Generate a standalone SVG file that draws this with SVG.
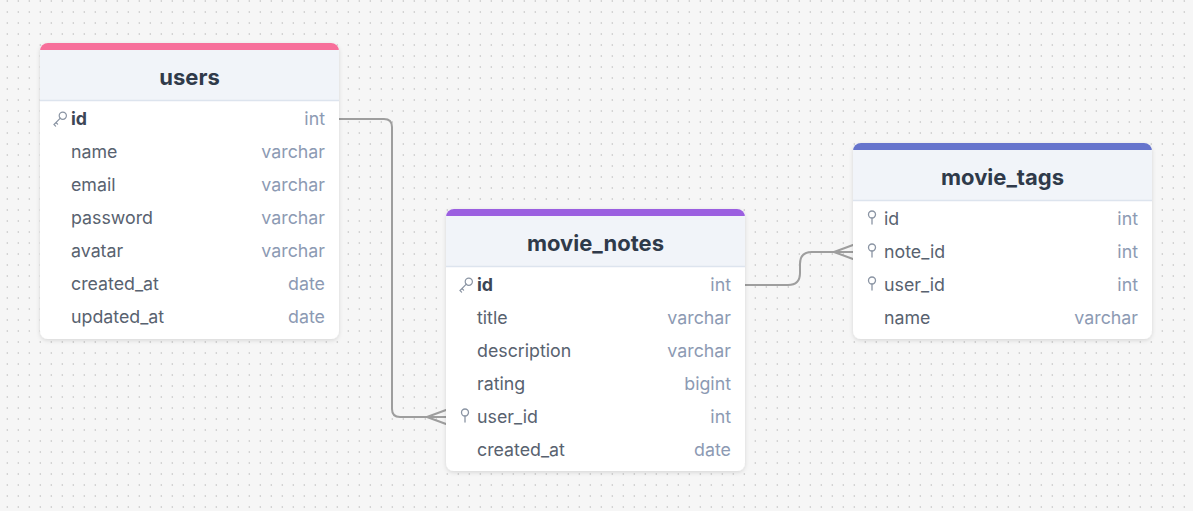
<svg xmlns="http://www.w3.org/2000/svg" width="1193" height="511" viewBox="0 0 1193 511">
<defs>
<pattern id="dots" x="0" y="0" width="11" height="11" patternUnits="userSpaceOnUse">
<circle cx="7.3" cy="1" r="0.8" fill="#bdbdbd"/>
</pattern>
<filter id="sh" x="-10%" y="-10%" width="120%" height="130%">
<feDropShadow dx="0" dy="1.5" stdDeviation="2" flood-color="#000" flood-opacity="0.13"/>
</filter>
<clipPath id="c1"><rect x="40" y="43" width="299" height="296" rx="8"/></clipPath>
<clipPath id="c2"><rect x="446" y="209" width="299" height="262" rx="8"/></clipPath>
<clipPath id="c3"><rect x="853" y="143" width="299" height="196" rx="8"/></clipPath>
<g id="key"><circle cx="4.8" cy="-3.8" r="3.6" fill="none" stroke="#8a94a3" stroke-width="1.2"/><path d="M2.3 -1.3 L-4 5 L-2.4 6.6 M-2 3 L-0.4 4.6" fill="none" stroke="#8a94a3" stroke-width="1.2" stroke-linecap="round"/></g>
<g id="pin"><circle cx="0" cy="-3" r="3.5" fill="none" stroke="#8a94a3" stroke-width="1.3"/><path d="M0 0.5 V6.5" stroke="#8a94a3" stroke-width="1.3" stroke-linecap="round"/></g>
</defs>
<style>
.title{font-family:Inter,"Liberation Sans",sans-serif;font-size:22px;font-weight:700;fill:#2f3a4a;text-anchor:middle}
.f{font-family:Inter,"Liberation Sans",sans-serif;font-size:17.8px;fill:#58626f}
.fb{font-family:Inter,"Liberation Sans",sans-serif;font-size:17.8px;font-weight:700;fill:#3c4656}
.t{font-family:Inter,"Liberation Sans",sans-serif;font-size:17.8px;fill:#8c9ab3;text-anchor:end}
.card{fill:#ffffff}
.hdr{fill:#f1f4f9}
.sep{stroke:#dde4ee;stroke-width:1.5}
.conn{fill:none;stroke:#9e9e9e;stroke-width:2;stroke-linecap:round;stroke-linejoin:round}
</style>
<rect width="1193" height="511" fill="#f6f6f6"/>
<rect width="1193" height="511" fill="url(#dots)"/>

<g id="connectors">
<path class="conn" d="M339 119 H384 Q392 119 392 127 V409 Q392 417 400 417 H446"/>
<path class="conn" d="M427 417 L446 410 M427 417 L446 424"/>
<path class="conn" d="M745 285 H788 Q800 285 800 273 V264 Q800 252 812 252 H853"/>
<path class="conn" d="M834 252 L853 245 M834 252 L853 259"/>
</g>

<g id="users">
<rect x="40" y="43" width="299" height="296" rx="8" class="card" filter="url(#sh)"/>
<g clip-path="url(#c1)">
<rect x="40" y="43" width="299" height="57" class="hdr"/>
<rect x="40" y="43" width="299" height="7" fill="#f76f9a"/>
</g>
<line x1="40" y1="100.5" x2="339" y2="100.5" class="sep"/>
<text x="189.5" y="84.5" class="title">users</text>
<use href="#key" x="58" y="119.5"/>
<text x="71" y="124.7" class="fb">id</text><text x="325" y="124.7" class="t">int</text>
<text x="71" y="157.7" class="f">name</text><text x="325" y="157.7" class="t">varchar</text>
<text x="71" y="190.7" class="f">email</text><text x="325" y="190.7" class="t">varchar</text>
<text x="71" y="223.7" class="f">password</text><text x="325" y="223.7" class="t">varchar</text>
<text x="71" y="256.7" class="f">avatar</text><text x="325" y="256.7" class="t">varchar</text>
<text x="71" y="289.7" class="f">created_at</text><text x="325" y="289.7" class="t">date</text>
<text x="71" y="322.7" class="f">updated_at</text><text x="325" y="322.7" class="t">date</text>
</g>

<g id="movie_notes">
<rect x="446" y="209" width="299" height="262" rx="8" class="card" filter="url(#sh)"/>
<g clip-path="url(#c2)">
<rect x="446" y="209" width="299" height="57" class="hdr"/>
<rect x="446" y="209" width="299" height="7" fill="#9b5fe0"/>
</g>
<line x1="446" y1="266.5" x2="745" y2="266.5" class="sep"/>
<text x="595.5" y="250.5" class="title">movie_notes</text>
<use href="#key" x="464" y="285.5"/>
<text x="477" y="290.7" class="fb">id</text><text x="731" y="290.7" class="t">int</text>
<text x="477" y="323.7" class="f">title</text><text x="731" y="323.7" class="t">varchar</text>
<text x="477" y="356.7" class="f">description</text><text x="731" y="356.7" class="t">varchar</text>
<text x="477" y="389.7" class="f">rating</text><text x="731" y="389.7" class="t">bigint</text>
<use href="#pin" x="465" y="415.5"/>
<text x="477" y="422.7" class="f">user_id</text><text x="731" y="422.7" class="t">int</text>
<text x="477" y="455.7" class="f">created_at</text><text x="731" y="455.7" class="t">date</text>
</g>

<g id="movie_tags">
<rect x="853" y="143" width="299" height="196" rx="8" class="card" filter="url(#sh)"/>
<g clip-path="url(#c3)">
<rect x="853" y="143" width="299" height="57" class="hdr"/>
<rect x="853" y="143" width="299" height="7" fill="#6674cc"/>
</g>
<line x1="853" y1="200.5" x2="1152" y2="200.5" class="sep"/>
<text x="1002.5" y="184.5" class="title">movie_tags</text>
<use href="#pin" x="872" y="217.5"/>
<text x="884" y="224.7" class="f">id</text><text x="1138" y="224.7" class="t">int</text>
<use href="#pin" x="872" y="250.5"/>
<text x="884" y="257.7" class="f">note_id</text><text x="1138" y="257.7" class="t">int</text>
<use href="#pin" x="872" y="283.5"/>
<text x="884" y="290.7" class="f">user_id</text><text x="1138" y="290.7" class="t">int</text>
<text x="884" y="323.7" class="f">name</text><text x="1138" y="323.7" class="t">varchar</text>
</g>
</svg>
